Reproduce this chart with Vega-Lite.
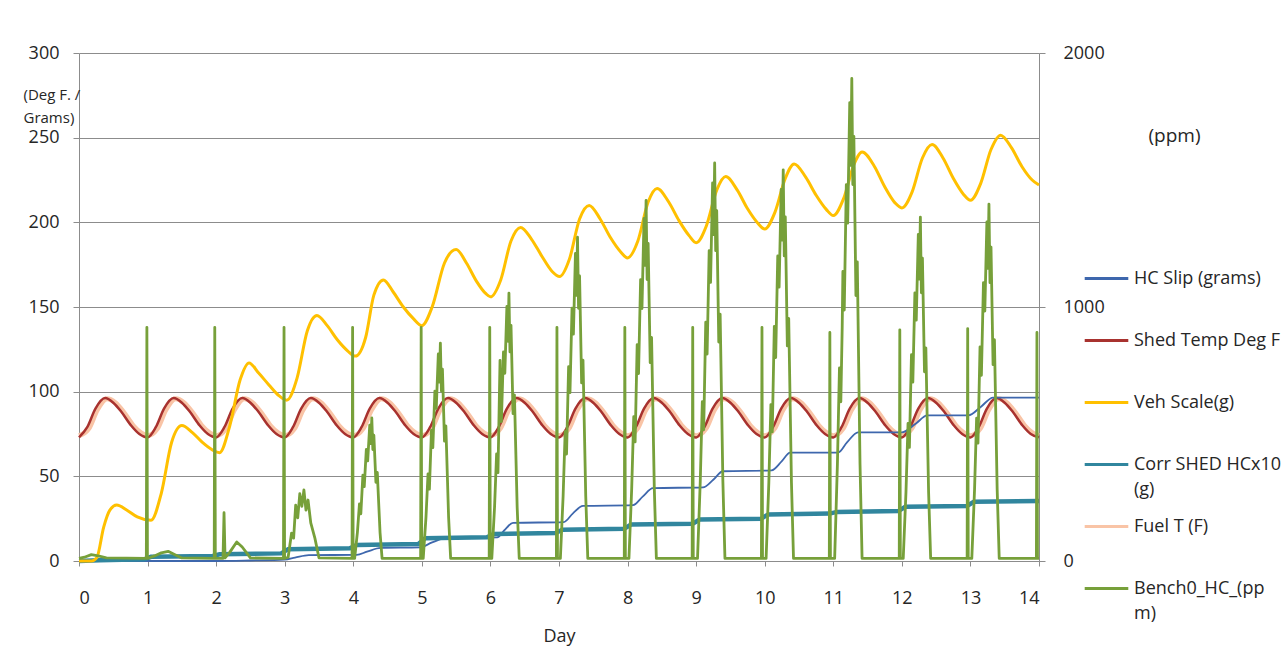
{
  "$schema": "https://vega.github.io/schema/vega-lite/v6.json",
  "width": 960,
  "height": 508,
  "autosize": {"type": "none"},
  "padding": {"left": 79, "top": 53, "right": 245, "bottom": 109},
  "background": "white",
  "config": {
    "font": "Open Sans",
    "view": {"stroke": null},
    "style": {"guide-label": {"lineHeight": 25}},
    "axis": {
      "labelFont": "Open Sans",
      "labelFontSize": 18,
      "labelColor": "#262626",
      "titleFont": "Open Sans",
      "titleColor": "#262626",
      "titleFontWeight": "normal",
      "domainColor": "#8c8c8c",
      "tickColor": "#8c8c8c",
      "gridColor": "#8c8c8c",
      "gridWidth": 1,
      "domainWidth": 1,
      "tickWidth": 1
    },
    "legend": {
      "orient": "none",
      "legendX": 1004,
      "legendY": 202,
      "title": null,
      "gridAlign": "all",
      "symbolType": "stroke",
      "symbolSize": 1900,
      "symbolStrokeWidth": 3,
      "labelFont": "Open Sans",
      "labelFontSize": 18,
      "labelColor": "#262626",
      "labelLimit": 300,
      "labelOffset": 4,
      "rowPadding": 4,
      "padding": 0
    }
  },
  "datasets": {
    "shed": [
      {"d":0,"v":73},{"d":0.12,"v":79},{"d":0.24,"v":90},{"d":0.38,"v":96.2},{"d":0.5,"v":93.5},{"d":0.62,"v":88},{"d":0.76,"v":80},{"d":0.88,"v":75},
      {"d":1,"v":73},{"d":1.12,"v":79},{"d":1.24,"v":90},{"d":1.38,"v":96.2},{"d":1.5,"v":93.5},{"d":1.62,"v":88},{"d":1.76,"v":80},{"d":1.88,"v":75},
      {"d":2,"v":73},{"d":2.12,"v":79},{"d":2.24,"v":90},{"d":2.38,"v":96.2},{"d":2.5,"v":93.5},{"d":2.62,"v":88},{"d":2.76,"v":80},{"d":2.88,"v":75},
      {"d":3,"v":73},{"d":3.12,"v":79},{"d":3.24,"v":90},{"d":3.38,"v":96.2},{"d":3.5,"v":93.5},{"d":3.62,"v":88},{"d":3.76,"v":80},{"d":3.88,"v":75},
      {"d":4,"v":73},{"d":4.12,"v":79},{"d":4.24,"v":90},{"d":4.38,"v":96.2},{"d":4.5,"v":93.5},{"d":4.62,"v":88},{"d":4.76,"v":80},{"d":4.88,"v":75},
      {"d":5,"v":73},{"d":5.12,"v":79},{"d":5.24,"v":90},{"d":5.38,"v":96.2},{"d":5.5,"v":93.5},{"d":5.62,"v":88},{"d":5.76,"v":80},{"d":5.88,"v":75},
      {"d":6,"v":73},{"d":6.12,"v":79},{"d":6.24,"v":90},{"d":6.38,"v":96.2},{"d":6.5,"v":93.5},{"d":6.62,"v":88},{"d":6.76,"v":80},{"d":6.88,"v":75},
      {"d":7,"v":73},{"d":7.12,"v":79},{"d":7.24,"v":90},{"d":7.38,"v":96.2},{"d":7.5,"v":93.5},{"d":7.62,"v":88},{"d":7.76,"v":80},{"d":7.88,"v":75},
      {"d":8,"v":73},{"d":8.12,"v":79},{"d":8.24,"v":90},{"d":8.38,"v":96.2},{"d":8.5,"v":93.5},{"d":8.62,"v":88},{"d":8.76,"v":80},{"d":8.88,"v":75},
      {"d":9,"v":73},{"d":9.12,"v":79},{"d":9.24,"v":90},{"d":9.38,"v":96.2},{"d":9.5,"v":93.5},{"d":9.62,"v":88},{"d":9.76,"v":80},{"d":9.88,"v":75},
      {"d":10,"v":73},{"d":10.12,"v":79},{"d":10.24,"v":90},{"d":10.38,"v":96.2},{"d":10.5,"v":93.5},{"d":10.62,"v":88},{"d":10.76,"v":80},{"d":10.88,"v":75},
      {"d":11,"v":73},{"d":11.12,"v":79},{"d":11.24,"v":90},{"d":11.38,"v":96.2},{"d":11.5,"v":93.5},{"d":11.62,"v":88},{"d":11.76,"v":80},{"d":11.88,"v":75},
      {"d":12,"v":73},{"d":12.12,"v":79},{"d":12.24,"v":90},{"d":12.38,"v":96.2},{"d":12.5,"v":93.5},{"d":12.62,"v":88},{"d":12.76,"v":80},{"d":12.88,"v":75},
      {"d":13,"v":73},{"d":13.12,"v":79},{"d":13.24,"v":90},{"d":13.38,"v":96.2},{"d":13.5,"v":93.5},{"d":13.62,"v":88},{"d":13.76,"v":80},{"d":13.88,"v":75},
      {"d":14,"v":73}
    ],
    "fuel": [
      {"d":0,"v":74},{"d":0.14,"v":78},{"d":0.27,"v":89.5},{"d":0.41,"v":95.8},{"d":0.53,"v":93.5},{"d":0.65,"v":88},{"d":0.79,"v":80},{"d":0.91,"v":75.5},
      {"d":1,"v":74},{"d":1.14,"v":78},{"d":1.27,"v":89.5},{"d":1.41,"v":95.8},{"d":1.53,"v":93.5},{"d":1.65,"v":88},{"d":1.79,"v":80},{"d":1.91,"v":75.5},
      {"d":2,"v":74},{"d":2.14,"v":78},{"d":2.27,"v":89.5},{"d":2.41,"v":95.8},{"d":2.53,"v":93.5},{"d":2.65,"v":88},{"d":2.79,"v":80},{"d":2.91,"v":75.5},
      {"d":3,"v":74},{"d":3.14,"v":78},{"d":3.27,"v":89.5},{"d":3.41,"v":95.8},{"d":3.53,"v":93.5},{"d":3.65,"v":88},{"d":3.79,"v":80},{"d":3.91,"v":75.5},
      {"d":4,"v":74},{"d":4.14,"v":78},{"d":4.27,"v":89.5},{"d":4.41,"v":95.8},{"d":4.53,"v":93.5},{"d":4.65,"v":88},{"d":4.79,"v":80},{"d":4.91,"v":75.5},
      {"d":5,"v":74},{"d":5.14,"v":78},{"d":5.27,"v":89.5},{"d":5.41,"v":95.8},{"d":5.53,"v":93.5},{"d":5.65,"v":88},{"d":5.79,"v":80},{"d":5.91,"v":75.5},
      {"d":6,"v":74},{"d":6.14,"v":78},{"d":6.27,"v":89.5},{"d":6.41,"v":95.8},{"d":6.53,"v":93.5},{"d":6.65,"v":88},{"d":6.79,"v":80},{"d":6.91,"v":75.5},
      {"d":7,"v":74},{"d":7.14,"v":78},{"d":7.27,"v":89.5},{"d":7.41,"v":95.8},{"d":7.53,"v":93.5},{"d":7.65,"v":88},{"d":7.79,"v":80},{"d":7.91,"v":75.5},
      {"d":8,"v":74},{"d":8.14,"v":78},{"d":8.27,"v":89.5},{"d":8.41,"v":95.8},{"d":8.53,"v":93.5},{"d":8.65,"v":88},{"d":8.79,"v":80},{"d":8.91,"v":75.5},
      {"d":9,"v":74},{"d":9.14,"v":78},{"d":9.27,"v":89.5},{"d":9.41,"v":95.8},{"d":9.53,"v":93.5},{"d":9.65,"v":88},{"d":9.79,"v":80},{"d":9.91,"v":75.5},
      {"d":10,"v":74},{"d":10.14,"v":78},{"d":10.27,"v":89.5},{"d":10.41,"v":95.8},{"d":10.53,"v":93.5},{"d":10.65,"v":88},{"d":10.79,"v":80},{"d":10.91,"v":75.5},
      {"d":11,"v":74},{"d":11.14,"v":78},{"d":11.27,"v":89.5},{"d":11.41,"v":95.8},{"d":11.53,"v":93.5},{"d":11.65,"v":88},{"d":11.79,"v":80},{"d":11.91,"v":75.5},
      {"d":12,"v":74},{"d":12.14,"v":78},{"d":12.27,"v":89.5},{"d":12.41,"v":95.8},{"d":12.53,"v":93.5},{"d":12.65,"v":88},{"d":12.79,"v":80},{"d":12.91,"v":75.5},
      {"d":13,"v":74},{"d":13.14,"v":78},{"d":13.27,"v":89.5},{"d":13.41,"v":95.8},{"d":13.53,"v":93.5},{"d":13.65,"v":88},{"d":13.79,"v":80},{"d":13.91,"v":75.5},
      {"d":14,"v":74}
    ],
    "veh": [
      {"d":0,"v":0},{"d":0.18,"v":0},{"d":0.26,"v":2},{"d":0.36,"v":20},{"d":0.45,"v":30},{"d":0.55,"v":33},{"d":0.7,"v":30},{"d":0.85,"v":26},
      {"d":1.05,"v":24},{"d":1.2,"v":40},{"d":1.35,"v":70},{"d":1.5,"v":80},{"d":1.65,"v":76},{"d":1.8,"v":70},{"d":1.95,"v":65.5},
      {"d":2.05,"v":64},{"d":2.2,"v":80},{"d":2.35,"v":107},{"d":2.48,"v":117},{"d":2.62,"v":111},{"d":2.77,"v":104},{"d":2.92,"v":97.5},
      {"d":3.03,"v":95},{"d":3.18,"v":108},{"d":3.33,"v":136},{"d":3.47,"v":145},{"d":3.62,"v":139},{"d":3.77,"v":130.5},{"d":3.92,"v":124},
      {"d":4.03,"v":121},{"d":4.18,"v":132},{"d":4.3,"v":157},{"d":4.44,"v":166},{"d":4.58,"v":159},{"d":4.73,"v":150},{"d":4.88,"v":143},
      {"d":5,"v":139},{"d":5.15,"v":150},{"d":5.33,"v":176},{"d":5.5,"v":184},{"d":5.65,"v":176},{"d":5.8,"v":165},{"d":5.93,"v":158},
      {"d":6,"v":156},{"d":6.15,"v":166},{"d":6.3,"v":189},{"d":6.44,"v":197},{"d":6.6,"v":190},{"d":6.75,"v":180},{"d":6.9,"v":171},
      {"d":7.01,"v":168},{"d":7.15,"v":178},{"d":7.3,"v":202},{"d":7.44,"v":210},{"d":7.6,"v":202},{"d":7.75,"v":191},{"d":7.9,"v":182.5},
      {"d":8,"v":179},{"d":8.15,"v":189},{"d":8.3,"v":212},{"d":8.43,"v":220},{"d":8.6,"v":212},{"d":8.75,"v":201},{"d":8.9,"v":192},
      {"d":9,"v":188},{"d":9.15,"v":198},{"d":9.3,"v":219},{"d":9.43,"v":227},{"d":9.6,"v":219},{"d":9.75,"v":208},{"d":9.9,"v":199.5},
      {"d":10,"v":196},{"d":10.15,"v":206},{"d":10.3,"v":226},{"d":10.43,"v":234.5},{"d":10.6,"v":226.5},{"d":10.75,"v":216},{"d":10.9,"v":207.5},
      {"d":11,"v":204},{"d":11.15,"v":214},{"d":11.3,"v":234},{"d":11.42,"v":241.5},{"d":11.6,"v":233},{"d":11.75,"v":221},{"d":11.9,"v":211.5},
      {"d":12,"v":208.5},{"d":12.15,"v":218},{"d":12.3,"v":238},{"d":12.44,"v":246},{"d":12.6,"v":238},{"d":12.75,"v":226},{"d":12.9,"v":216.5},
      {"d":13,"v":213},{"d":13.15,"v":223},{"d":13.3,"v":243},{"d":13.44,"v":251.5},{"d":13.6,"v":244},{"d":13.75,"v":233},{"d":13.9,"v":225},{"d":14,"v":222}
    ],
    "slip": [
      {"d":0,"v":0},{"d":2,"v":0},{"d":2.5,"v":0.3},{"d":3,"v":0.8},{"d":3.15,"v":2},{"d":3.35,"v":3.5},{"d":4.05,"v":3.6},{"d":4.2,"v":5.5},{"d":4.4,"v":7.7},
      {"d":4.97,"v":8},{"d":5.15,"v":11},{"d":5.37,"v":13.6},{"d":6.1,"v":14},{"d":6.2,"v":18},{"d":6.33,"v":22.5},{"d":7.07,"v":23},{"d":7.2,"v":28},{"d":7.35,"v":32.5},
      {"d":8.08,"v":33},{"d":8.22,"v":38},{"d":8.37,"v":43},{"d":9.1,"v":43.5},{"d":9.25,"v":48},{"d":9.39,"v":53},{"d":10.1,"v":53.5},{"d":10.25,"v":59},{"d":10.37,"v":64},
      {"d":11.07,"v":64},{"d":11.2,"v":70},{"d":11.36,"v":76},{"d":12,"v":76},{"d":12.2,"v":81},{"d":12.37,"v":86},{"d":12.97,"v":86},{"d":13.15,"v":91},{"d":13.33,"v":96.5},{"d":14,"v":96.5}
    ],
    "corr": [
      {"d":0,"v":0},{"d":0.3,"v":0.5},{"d":0.95,"v":1},{"d":1.05,"v":2.5},{"d":1.95,"v":3},{"d":2.05,"v":4},{"d":2.95,"v":4.5},{"d":3.05,"v":7},{"d":3.95,"v":7.5},
      {"d":4.05,"v":9.5},{"d":4.95,"v":10},{"d":5.05,"v":13.5},{"d":5.95,"v":14},{"d":6.05,"v":16},{"d":6.95,"v":16.5},{"d":7.05,"v":18.5},{"d":7.95,"v":19},
      {"d":8.05,"v":21.5},{"d":8.95,"v":22},{"d":9.05,"v":24.5},{"d":9.95,"v":25},{"d":10.05,"v":27.5},{"d":10.95,"v":28},{"d":11.05,"v":29},{"d":11.95,"v":29.5},
      {"d":12.05,"v":32},{"d":12.95,"v":32.5},{"d":13.05,"v":35},{"d":14,"v":35.5}
    ],
    "bench": [
      {"d":0,"v":10},{"d":0.08,"v":15},{"d":0.18,"v":25},{"d":0.28,"v":20},{"d":0.4,"v":12},
      {"d":0.982,"v":10},{"d":0.99,"v":920},{"d":0.998,"v":10},
      {"d":1.1,"v":20},{"d":1.2,"v":32},{"d":1.3,"v":38},{"d":1.4,"v":25},{"d":1.5,"v":12},
      {"d":1.972,"v":10},{"d":1.98,"v":920},{"d":1.988,"v":10},
      {"d":2.1,"v":10},{"d":2.115,"v":190},{"d":2.13,"v":12},{"d":2.2,"v":35},{"d":2.3,"v":75},{"d":2.38,"v":55},{"d":2.5,"v":12},
      {"d":2.982,"v":10},{"d":2.99,"v":920},{"d":2.998,"v":10},
      {"d":3.05,"v":15},{"d":3.1,"v":110},{"d":3.13,"v":90},{"d":3.16,"v":220},{"d":3.19,"v":170},{"d":3.22,"v":265},{"d":3.25,"v":215},{"d":3.28,"v":280},{"d":3.31,"v":200},{"d":3.34,"v":240},{"d":3.38,"v":150},{"d":3.44,"v":90},{"d":3.5,"v":12},
      {"d":3.982,"v":10},{"d":3.99,"v":920},{"d":3.998,"v":10},
      {"d":4.02,"v":10},{"d":4.06,"v":113},{"d":4.09,"v":225},{"d":4.11,"v":186},{"d":4.14,"v":338},{"d":4.16,"v":293},{"d":4.19,"v":439},{"d":4.21,"v":394},{"d":4.24,"v":535},{"d":4.255,"v":462},{"d":4.27,"v":563},{"d":4.285,"v":439},{"d":4.3,"v":495},{"d":4.33,"v":310},{"d":4.35,"v":349},{"d":4.39,"v":113},{"d":4.42,"v":10},
      {"d":4.982,"v":10},{"d":4.99,"v":920},{"d":4.998,"v":10},
      {"d":5.02,"v":10},{"d":5.06,"v":172},{"d":5.09,"v":343},{"d":5.11,"v":283},{"d":5.14,"v":515},{"d":5.16,"v":446},{"d":5.19,"v":669},{"d":5.21,"v":601},{"d":5.24,"v":815},{"d":5.255,"v":704},{"d":5.27,"v":858},{"d":5.285,"v":669},{"d":5.3,"v":755},{"d":5.33,"v":472},{"d":5.35,"v":532},{"d":5.39,"v":172},{"d":5.42,"v":10},
      {"d":5.982,"v":10},{"d":5.99,"v":920},{"d":5.998,"v":10},
      {"d":6.02,"v":10},{"d":6.06,"v":211},{"d":6.09,"v":422},{"d":6.11,"v":348},{"d":6.14,"v":790},{"d":6.15,"v":600},{"d":6.16,"v":549},{"d":6.19,"v":823},{"d":6.21,"v":739},{"d":6.24,"v":1002},{"d":6.255,"v":865},{"d":6.27,"v":1055},{"d":6.285,"v":823},{"d":6.3,"v":928},{"d":6.33,"v":580},{"d":6.35,"v":654},{"d":6.39,"v":211},{"d":6.42,"v":10},
      {"d":6.962,"v":10},{"d":6.97,"v":920},{"d":6.978,"v":10},
      {"d":7.02,"v":10},{"d":7.06,"v":255},{"d":7.09,"v":510},{"d":7.11,"v":421},{"d":7.14,"v":765},{"d":7.16,"v":663},{"d":7.19,"v":995},{"d":7.21,"v":893},{"d":7.24,"v":1211},{"d":7.255,"v":1046},{"d":7.27,"v":1275},{"d":7.285,"v":995},{"d":7.3,"v":1122},{"d":7.33,"v":701},{"d":7.35,"v":791},{"d":7.39,"v":255},{"d":7.42,"v":10},
      {"d":7.952,"v":10},{"d":7.96,"v":920},{"d":7.968,"v":10},
      {"d":8.02,"v":10},{"d":8.06,"v":284},{"d":8.09,"v":568},{"d":8.11,"v":469},{"d":8.14,"v":852},{"d":8.16,"v":738},{"d":8.19,"v":1108},{"d":8.21,"v":994},{"d":8.24,"v":1349},{"d":8.255,"v":1164},{"d":8.27,"v":1420},{"d":8.285,"v":1108},{"d":8.3,"v":1250},{"d":8.33,"v":781},{"d":8.35,"v":880},{"d":8.39,"v":284},{"d":8.42,"v":10},
      {"d":8.942,"v":10},{"d":8.95,"v":920},{"d":8.958,"v":10},
      {"d":9.02,"v":10},{"d":9.06,"v":313},{"d":9.09,"v":627},{"d":9.11,"v":517},{"d":9.14,"v":940},{"d":9.16,"v":815},{"d":9.19,"v":1222},{"d":9.21,"v":1097},{"d":9.24,"v":1489},{"d":9.255,"v":1285},{"d":9.27,"v":1567},{"d":9.285,"v":1222},{"d":9.3,"v":1379},{"d":9.33,"v":862},{"d":9.35,"v":972},{"d":9.39,"v":313},{"d":9.42,"v":10},
      {"d":9.952,"v":10},{"d":9.96,"v":920},{"d":9.968,"v":10},
      {"d":10.02,"v":10},{"d":10.06,"v":308},{"d":10.09,"v":616},{"d":10.11,"v":508},{"d":10.14,"v":924},{"d":10.16,"v":801},{"d":10.19,"v":1201},{"d":10.21,"v":1078},{"d":10.24,"v":1463},{"d":10.255,"v":1263},{"d":10.27,"v":1540},{"d":10.285,"v":1201},{"d":10.3,"v":1355},{"d":10.33,"v":847},{"d":10.35,"v":955},{"d":10.39,"v":308},{"d":10.42,"v":10},
      {"d":10.942,"v":10},{"d":10.95,"v":900},{"d":10.958,"v":10},
      {"d":11.02,"v":10},{"d":11.06,"v":380},{"d":11.09,"v":760},{"d":11.11,"v":627},{"d":11.13,"v":920},{"d":11.14,"v":1140},{"d":11.16,"v":988},{"d":11.19,"v":1482},{"d":11.21,"v":1330},{"d":11.24,"v":1805},{"d":11.255,"v":1558},{"d":11.27,"v":1900},{"d":11.285,"v":1482},{"d":11.3,"v":1672},{"d":11.33,"v":1045},{"d":11.35,"v":1178},{"d":11.39,"v":380},{"d":11.42,"v":10},
      {"d":11.962,"v":10},{"d":11.97,"v":910},{"d":11.978,"v":10},
      {"d":12.02,"v":10},{"d":12.06,"v":271},{"d":12.09,"v":542},{"d":12.11,"v":447},{"d":12.14,"v":812},{"d":12.16,"v":704},{"d":12.19,"v":1056},{"d":12.21,"v":948},{"d":12.24,"v":1286},{"d":12.255,"v":1110},{"d":12.27,"v":1354},{"d":12.285,"v":1056},{"d":12.3,"v":1192},{"d":12.33,"v":745},{"d":12.35,"v":839},{"d":12.39,"v":271},{"d":12.42,"v":10},
      {"d":12.952,"v":10},{"d":12.96,"v":915},{"d":12.968,"v":10},
      {"d":13.02,"v":10},{"d":13.06,"v":281},{"d":13.09,"v":562},{"d":13.11,"v":464},{"d":13.14,"v":843},{"d":13.16,"v":731},{"d":13.19,"v":1096},{"d":13.21,"v":984},{"d":13.24,"v":1335},{"d":13.255,"v":1152},{"d":13.27,"v":1405},{"d":13.285,"v":1096},{"d":13.3,"v":1236},{"d":13.33,"v":773},{"d":13.35,"v":871},{"d":13.39,"v":281},{"d":13.42,"v":10},
      {"d":13.962,"v":10},{"d":13.97,"v":900},{"d":13.978,"v":10},{"d":14,"v":10}
    ]
  },
  "layer": [
    {
      "encoding": {
        "x": {
          "field": "d", "type": "quantitative",
          "scale": {"domain": [0, 14], "nice": false, "zero": false},
          "axis": {
            "values": [0,1,2,3,4,5,6,7,8,9,10,11,12,13,14],
            "format": "d",
            "grid": false, "tickSize": 5, "labelPadding": 23,
            "title": "Day", "titleFontSize": 18, "titlePadding": 20
          }
        },
        "y": {
          "field": "v", "type": "quantitative",
          "scale": {"domain": [0, 300], "nice": false},
          "axis": {
            "orient": "left",
            "values": [0,50,100,150,200,250,300],
            "format": "d",
            "grid": true, "tickSize": 6, "labelPadding": 14,
            "title": ["(Deg F. /", "Grams)"],
            "titleFontSize": 15, "titleLineHeight": 23,
            "titleAngle": 0, "titleAlign": "left", "titleBaseline": "top",
            "titleX": -56, "titleY": 34
          }
        }
      },
      "layer": [
        {
          "data": {"name": "fuel"},
          "mark": {"type": "line", "interpolate": "monotone", "strokeWidth": 5},
          "encoding": {"color": {"datum": "Fuel T (F)", "type": "nominal",
            "scale": {"domain": ["HC Slip (grams)","Shed Temp Deg F","Veh Scale(g)","Corr SHED HCx10 (g)","Fuel T (F)","Bench0_HC_(ppm)"],
                      "range": ["#3E67AD","#A8322F","#FFC000","#31869E","#F9C4A6","#77A03A"]},
            "legend": {"labelExpr": "datum.label == 'Corr SHED HCx10 (g)' ? ['Corr SHED HCx10', '(g)'] : datum.label == 'Bench0_HC_(ppm)' ? ['Bench0_HC_(pp', 'm)'] : datum.label"}}}
        },
        {
          "data": {"name": "shed"},
          "mark": {"type": "line", "interpolate": "monotone", "strokeWidth": 2.5},
          "encoding": {"color": {"datum": "Shed Temp Deg F", "type": "nominal",
            "scale": {"domain": ["HC Slip (grams)","Shed Temp Deg F","Veh Scale(g)","Corr SHED HCx10 (g)","Fuel T (F)","Bench0_HC_(ppm)"],
                      "range": ["#3E67AD","#A8322F","#FFC000","#31869E","#F9C4A6","#77A03A"]},
            "legend": {"labelExpr": "datum.label == 'Corr SHED HCx10 (g)' ? ['Corr SHED HCx10', '(g)'] : datum.label == 'Bench0_HC_(ppm)' ? ['Bench0_HC_(pp', 'm)'] : datum.label"}}}
        },
        {
          "data": {"name": "slip"},
          "mark": {"type": "line", "interpolate": "monotone", "strokeWidth": 1.8},
          "encoding": {"color": {"datum": "HC Slip (grams)", "type": "nominal",
            "scale": {"domain": ["HC Slip (grams)","Shed Temp Deg F","Veh Scale(g)","Corr SHED HCx10 (g)","Fuel T (F)","Bench0_HC_(ppm)"],
                      "range": ["#3E67AD","#A8322F","#FFC000","#31869E","#F9C4A6","#77A03A"]},
            "legend": {"labelExpr": "datum.label == 'Corr SHED HCx10 (g)' ? ['Corr SHED HCx10', '(g)'] : datum.label == 'Bench0_HC_(ppm)' ? ['Bench0_HC_(pp', 'm)'] : datum.label"}}}
        },
        {
          "data": {"name": "corr"},
          "mark": {"type": "line", "interpolate": "linear", "strokeWidth": 4.5},
          "encoding": {"color": {"datum": "Corr SHED HCx10 (g)", "type": "nominal",
            "scale": {"domain": ["HC Slip (grams)","Shed Temp Deg F","Veh Scale(g)","Corr SHED HCx10 (g)","Fuel T (F)","Bench0_HC_(ppm)"],
                      "range": ["#3E67AD","#A8322F","#FFC000","#31869E","#F9C4A6","#77A03A"]},
            "legend": {"labelExpr": "datum.label == 'Corr SHED HCx10 (g)' ? ['Corr SHED HCx10', '(g)'] : datum.label == 'Bench0_HC_(ppm)' ? ['Bench0_HC_(pp', 'm)'] : datum.label"}}}
        },
        {
          "data": {"name": "veh"},
          "mark": {"type": "line", "interpolate": "monotone", "strokeWidth": 3},
          "encoding": {"color": {"datum": "Veh Scale(g)", "type": "nominal",
            "scale": {"domain": ["HC Slip (grams)","Shed Temp Deg F","Veh Scale(g)","Corr SHED HCx10 (g)","Fuel T (F)","Bench0_HC_(ppm)"],
                      "range": ["#3E67AD","#A8322F","#FFC000","#31869E","#F9C4A6","#77A03A"]},
            "legend": {"labelExpr": "datum.label == 'Corr SHED HCx10 (g)' ? ['Corr SHED HCx10', '(g)'] : datum.label == 'Bench0_HC_(ppm)' ? ['Bench0_HC_(pp', 'm)'] : datum.label"}}}
        }
      ]
    },
    {
      "data": {"name": "bench"},
      "mark": {"type": "line", "interpolate": "linear", "strokeWidth": 2.8, "strokeJoin": "round"},
      "encoding": {
        "x": {"field": "d", "type": "quantitative", "scale": {"domain": [0, 14], "nice": false, "zero": false}},
        "y": {
          "field": "v", "type": "quantitative",
          "scale": {"domain": [0, 2000], "nice": false},
          "axis": {
            "orient": "right",
            "values": [0, 1000, 2000],
            "format": "d",
            "grid": false, "tickSize": 6, "labelPadding": 18,
            "title": "(ppm)", "titleFontSize": 19,
            "titleAngle": 0, "titleAlign": "left", "titleBaseline": "middle",
            "titleX": 109, "titleY": 82
          }
        },
        "color": {"datum": "Bench0_HC_(ppm)", "type": "nominal",
          "scale": {"domain": ["HC Slip (grams)","Shed Temp Deg F","Veh Scale(g)","Corr SHED HCx10 (g)","Fuel T (F)","Bench0_HC_(ppm)"],
                    "range": ["#3E67AD","#A8322F","#FFC000","#31869E","#F9C4A6","#77A03A"]},
          "legend": {"labelExpr": "datum.label == 'Corr SHED HCx10 (g)' ? ['Corr SHED HCx10', '(g)'] : datum.label == 'Bench0_HC_(ppm)' ? ['Bench0_HC_(pp', 'm)'] : datum.label"}}
      }
    }
  ],
  "resolve": {"scale": {"y": "independent"}}
}
